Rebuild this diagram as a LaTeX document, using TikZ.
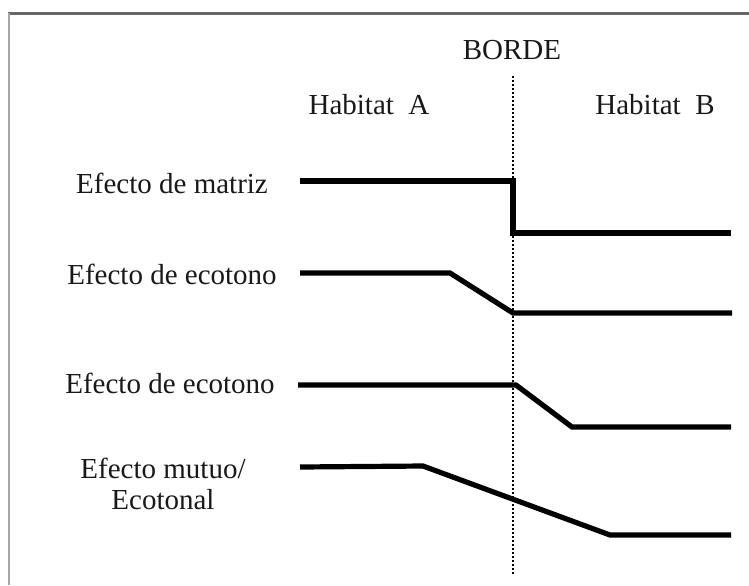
\documentclass[tikz,border=0pt]{standalone}
\usepackage{fontspec}
\setmainfont{Liberation Serif}
\tikzset{
	lbl/.style={inner sep=0pt, font=\fontsize{14.5}{15.5}\selectfont, text=black!90},
	trend/.style={line width=2.6pt, line join=miter},
	borde/.style={line width=1.4pt, dash pattern=on 1pt off 1pt}
}
\begin{document}
\begin{tikzpicture}[x=0.5pt, y=-0.5pt]
		\useasboundingbox (0,0) rectangle (749,585);
		\fill[white] (0,0) rectangle (749,585);
		%frame
		\draw[line width=1.5pt, black!60] (8,13) -- (749,13);
		\draw[line width=1pt, black!35] (9,13) -- (9,585);
		
		%edge line
		\node[lbl] (borde) at (512, 50){BORDE};
		\coordinate (btop) at (513, 76);
		\coordinate (bbot) at (513, 576);
		\draw[borde] (btop) -- (bbot);
		
		\node[lbl] (habA) at (369, 105){Habitat\ \ A};
		\node[lbl] (habB) at (655, 105){Habitat\ \ B};
		
		%labels
		\node[lbl] (matriz) at (172, 183){Efecto de matriz};
		\node[lbl] (ecoA) at (172, 274){Efecto de ecotono};
		\node[lbl] (ecoB) at (170, 383){Efecto de ecotono};
		\node[lbl, align=center] (mutuo) at (163, 484){Efecto mutuo/\\Ecotonal};
		
		%responses
		\draw[trend] (300, 181) -- (513, 181) -- (513, 233) -- (731, 233);
		\draw[trend] (300, 273) -- (450, 273) -- (513, 313) -- (732, 313);
		\draw[trend] (298, 385) -- (516, 385) -- (572, 427) -- (731, 427);
		\draw[trend] (300, 467) -- (423, 466) -- (610, 535) -- (731, 535);
		\end{tikzpicture}
\end{document}
